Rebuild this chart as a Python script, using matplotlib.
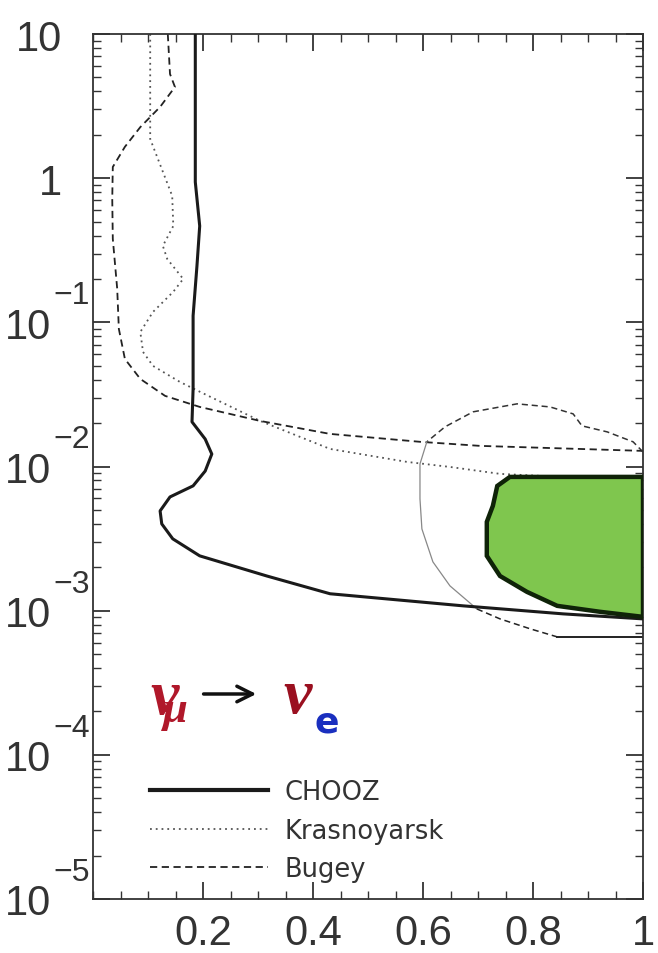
import matplotlib
matplotlib.use("Agg")
import matplotlib.pyplot as plt
import matplotlib.transforms as mtransforms
from matplotlib.ticker import MultipleLocator, LogLocator, NullFormatter

plt.rcParams['font.family'] = ['Liberation Sans', 'DejaVu Sans']
plt.rcParams['mathtext.fontset'] = 'custom'
plt.rcParams['mathtext.rm'] = 'Liberation Serif'
plt.rcParams['mathtext.it'] = 'Liberation Serif:italic:bold'
plt.rcParams['mathtext.bf'] = 'Liberation Serif:bold'

# ---------------- data (sin^2 2theta, delta m^2 [eV^2]) ----------------
chooz_s2 = [0.186, 0.186, 0.194, 0.189, 0.182, 0.182, 0.180, 0.204, 0.216, 0.204, 0.182,
            0.140, 0.122, 0.125, 0.145, 0.194, 0.316, 0.431, 0.673, 0.855, 1.0]
chooz_dm = [10, 0.94, 0.466, 0.246, 0.111, 0.0345, 0.0204, 0.0155, 0.0122, 0.0093, 0.00734,
            0.00615, 0.00492, 0.0040, 0.00315, 0.0024, 0.00174, 0.00131, 0.00108, 0.00095, 0.000877]

kras_s2 = [0.104, 0.104, 0.125, 0.144, 0.146, 0.127, 0.135, 0.164, 0.146, 0.109, 0.086,
           0.091, 0.109, 0.158, 0.195, 0.304, 0.431, 0.571, 0.649, 0.740, 1.0]
kras_dm = [10, 1.87, 1.16, 0.753, 0.466, 0.339, 0.275, 0.200, 0.163, 0.118, 0.0857,
           0.0623, 0.0499, 0.0386, 0.0329, 0.0207, 0.01324, 0.01076, 0.00993, 0.00889, 0.00794]

bugey_s2 = [0.136, 0.140, 0.149, 0.122, 0.086, 0.058, 0.036, 0.035, 0.036, 0.044, 0.047,
            0.058, 0.086, 0.131, 0.194, 0.304, 0.431, 0.595, 0.704, 1.0]
bugey_dm = [10, 5.28, 4.29, 3.12, 2.26, 1.65, 1.196, 0.718, 0.379, 0.171, 0.090,
            0.0557, 0.0405, 0.0309, 0.0259, 0.0207, 0.01683, 0.01483, 0.0139, 0.01283]

# outer contour around the allowed region (pieces with different line styles)
bump_s2 = [1.0, 0.982, 0.935, 0.889, 0.873, 0.831, 0.771, 0.691, 0.640, 0.607]
bump_dm = [0.01262, 0.01483, 0.01738, 0.01914, 0.02317, 0.0259, 0.0272, 0.02394, 0.01884, 0.01483]
side_s2 = [0.607, 0.5945, 0.5945, 0.598, 0.618, 0.649, 0.698]
side_dm = [0.01483, 0.01042, 0.00596, 0.00369, 0.00218, 0.001486, 0.001028]
base_s2 = [0.698, 0.740, 0.795, 0.844]
base_dm = [0.001028, 0.000877, 0.000748, 0.000658]
flat_s2 = [0.844, 1.0]
flat_dm = [0.000658, 0.000658]

# green allowed region
green_s2 = [0.758, 1.0, 1.0, 0.922, 0.844, 0.789, 0.740, 0.716, 0.716, 0.727, 0.735]
green_dm = [0.00847, 0.00847, 0.000906, 0.000982, 0.00108, 0.00135, 0.00174, 0.0024,
            0.00413, 0.00533, 0.00733]

yticks = [1e-5, 1e-4, 1e-3, 1e-2, 1e-1, 1, 10]
ytick_base = ["10", "10", "10", "10", "10", "1", "10"]
ytick_exp = ["\u22125", "\u22124", "\u22123", "\u22122", "\u22121", "", ""]
xticks = [0.2, 0.4, 0.6, 0.8, 1.0]
xtick_labels = ["0.2", "0.4", "0.6", "0.8", "1"]
legend_labels = ["CHOOZ", "Krasnoyarsk", "Bugey"]

# ---------------- figure ----------------
fig = plt.figure(figsize=(6.58, 9.54), dpi=100)
ax = fig.add_axes([93/658, 54/954, 550/658, 865/954])
ax.set_yscale('log')
ax.set_xlim(0, 1)
ax.set_ylim(1e-5, 10)

l_kras, = ax.plot(kras_s2, kras_dm, linestyle=(0, (1, 2.2)), color='#555555', lw=1.3, zorder=2)
l_bugey, = ax.plot(bugey_s2, bugey_dm, linestyle=(0, (4, 2.5)), color='#222222', lw=1.3, zorder=2)
ax.plot(bump_s2, bump_dm, linestyle=(0, (4, 2.5)), color='#333333', lw=1.1, zorder=2)
ax.plot(side_s2, side_dm, linestyle='-', color='#888888', lw=0.9, zorder=2)
ax.plot(base_s2, base_dm, linestyle=(0, (4, 2.5)), color='#222222', lw=1.1, zorder=2)
ax.plot(flat_s2, flat_dm, linestyle='-', color='#222222', lw=1.4, zorder=2)
l_chooz, = ax.plot(chooz_s2, chooz_dm, linestyle='-', color='#1a1a1a', lw=2.2, zorder=3)

ax.fill(green_s2, green_dm, facecolor='#7fc64e', edgecolor='#0f2308', lw=3.2, zorder=4)

# ticks
ax.set_yticks(yticks)
ax.set_yticklabels(ytick_base)
ax.yaxis.set_minor_locator(LogLocator(base=10, subs=range(2, 10), numticks=20))
ax.yaxis.set_minor_formatter(NullFormatter())
ax.set_xticks(xticks)
ax.set_xticklabels(xtick_labels)
ax.xaxis.set_minor_locator(MultipleLocator(0.05))
ax.tick_params(which='both', direction='in', top=True, right=True, colors='#333333')
ax.tick_params(which='major', length=12, width=1.3, labelsize=30, labelcolor='#333333')
ax.tick_params(which='minor', length=6, width=1.0)
ax.tick_params(axis='x', which='major', pad=10)
ax.tick_params(axis='y', which='major', pad=22)
for sp in ax.spines.values():
    sp.set_color('#333333')
    sp.set_linewidth(1.3)

# labels carrying an exponent sit further left; exponents drawn raised
shift = mtransforms.ScaledTranslation(-0.11, 0, fig.dpi_scale_trans)
ylabels = ax.get_yticklabels()
exp_trans = mtransforms.blended_transform_factory(ax.transAxes, ax.transData) + \
    mtransforms.ScaledTranslation(0, 0.19, fig.dpi_scale_trans)
for lab, val, ex in zip(ylabels, yticks, ytick_exp):
    if ex:
        lab.set_transform(lab.get_transform() + shift)
        ax.text(-0.0727, val, ex, transform=exp_trans, ha='left', va='baseline',
                fontsize=23, color='#333333', clip_on=False)

# legend
leg = ax.legend([l_chooz, l_kras, l_bugey], legend_labels, loc='upper left',
                bbox_to_anchor=(0.1036, 0.139), frameon=False, borderpad=0,
                borderaxespad=0, handlelength=4.6, handletextpad=0.65,
                labelspacing=0.5, prop={'family': 'DejaVu Sans', 'size': 18.5})
for t in leg.get_texts():
    t.set_color('#333333')
leg.get_lines()[0].set_linewidth(3.0)

# nu_mu -> nu_e label
ax.text(0.1036, 0.2162, r"$\mathit{\nu}\!\!_{\mathit{\mu}}$", transform=ax.transAxes,
        ha='left', va='baseline', fontsize=46, color='#b0182a')
ax.annotate('', xy=(0.302, 0.237), xytext=(0.196, 0.237), xycoords='axes fraction',
            arrowprops=dict(arrowstyle='->', lw=2.5, color='#111111', mutation_scale=28))
nu2 = ax.text(0.3455, 0.2162, r"$\mathit{\nu}$", transform=ax.transAxes, ha='left',
              va='baseline', fontsize=46, color='#9a1020')
fig.canvas.draw()
bb = nu2.get_window_extent()
x_e = ax.transAxes.inverted().transform((bb.x1 + 1, bb.y0))[0]
ax.text(x_e, 0.194, "e", transform=ax.transAxes, ha='left', va='baseline',
        fontsize=26, color='#1a2fbf', family='DejaVu Sans', fontweight='bold')

fig.savefig("out.png", dpi=100)
